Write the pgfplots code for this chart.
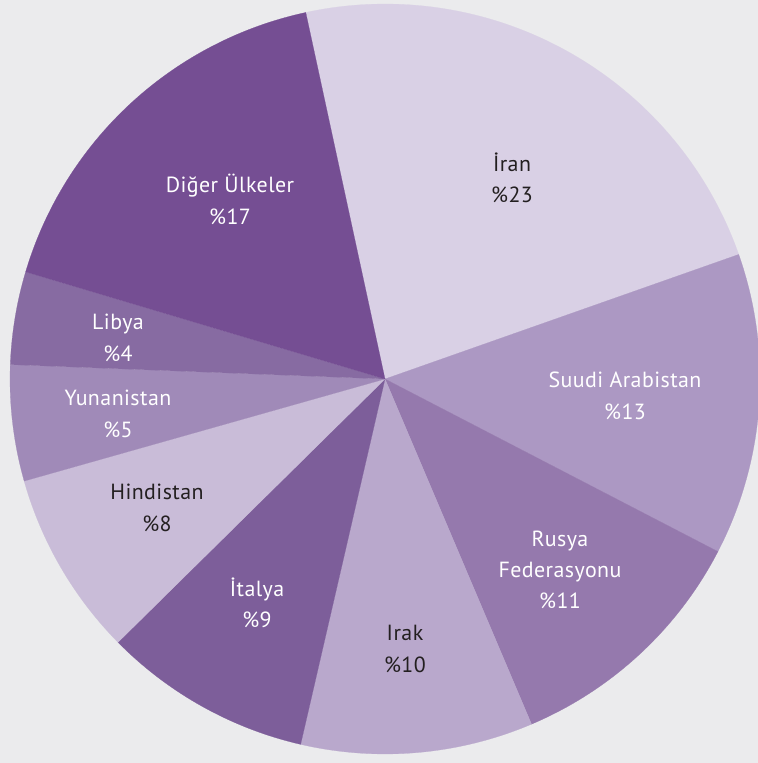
\documentclass[border=0pt]{standalone}
\usepackage{fontspec}
\setmainfont{PT Sans}[LetterSpace=2]
\usepackage{pgfplots}
\pgfplotsset{compat=1.18}
\definecolor{bg}{RGB}{235,235,237}
\definecolor{cIran}{RGB}{217,208,229}
\definecolor{cSuudi}{RGB}{172,152,195}
\definecolor{cRusya}{RGB}{149,121,173}
\definecolor{cIrak}{RGB}{185,168,204}
\definecolor{cItalya}{RGB}{125,94,154}
\definecolor{cHind}{RGB}{201,188,216}
\definecolor{cYunan}{RGB}{160,138,184}
\definecolor{cLibya}{RGB}{135,107,162}
\definecolor{cDiger}{RGB}{117,78,147}
\definecolor{dark}{RGB}{35,31,32}
\tikzset{lbl/.style={font=\fontsize{22}{31.5}\selectfont, align=center, inner sep=0pt}}
\newcommand\cum{0}
\newcommand\slice[2]{%
  \pgfmathsetmacro\aS{102.2-3.6*\cum}%
  \pgfmathsetmacro\aE{102.2-3.6*(\cum+#1)}%
  \edef\doslice{\noexpand\addplot[fill=#2, draw=#2, line width=0.2pt, domain=\aE:\aS, samples=100] ({cos(x)},{sin(x)}) -- (axis cs:0,0) -- cycle;}%
  \doslice
  \pgfmathsetmacro\newcum{\cum+#1}\xdef\cum{\newcum}%
}
\begin{document}
\begin{tikzpicture}
\begin{axis}[
  width=758bp, height=763bp, scale only axis,
  xmin=-1.026667, xmax=0.994667, ymin=-1.024, ymax=1.010667,
  hide axis, clip=true,
]
\fill[bg] (rel axis cs:0,0) rectangle (rel axis cs:1,1);
\slice{23}{cIran}
\slice{13}{cSuudi}
\slice{11}{cRusya}
\slice{10}{cIrak}
\slice{9}{cItalya}
\slice{8}{cHind}
\slice{5}{cYunan}
\slice{4}{cLibya}
\slice{17}{cDiger}
\node[lbl, text=dark]  at (axis cs:0.3387,0.536)   {İran\\\%23};
\node[lbl, text=white] at (axis cs:0.64,-0.0453)   {Suudi Arabistan\\\%13};
\node[lbl, text=white] at (axis cs:0.4667,-0.5093) {Rusya\\Federasyonu\\\%11};
\node[lbl, text=dark]  at (axis cs:0.0533,-0.72)   {Irak\\\%10};
\node[lbl, text=white] at (axis cs:-0.3413,-0.5973){İtalya\\\%9};
\node[lbl, text=dark]  at (axis cs:-0.608,-0.344)  {Hindistan\\\%8};
\node[lbl, text=white] at (axis cs:-0.712,-0.0933) {Yunanistan\\\%5};
\node[lbl, text=white] at (axis cs:-0.712,0.1093)  {Libya\\\%4};
\node[lbl, text=white] at (axis cs:-0.4133,0.4787) {Diğer Ülkeler\\\%17};
\end{axis}
\pgfresetboundingbox
\path (current axis.south west) rectangle (current axis.north east);
\end{tikzpicture}
\end{document}
